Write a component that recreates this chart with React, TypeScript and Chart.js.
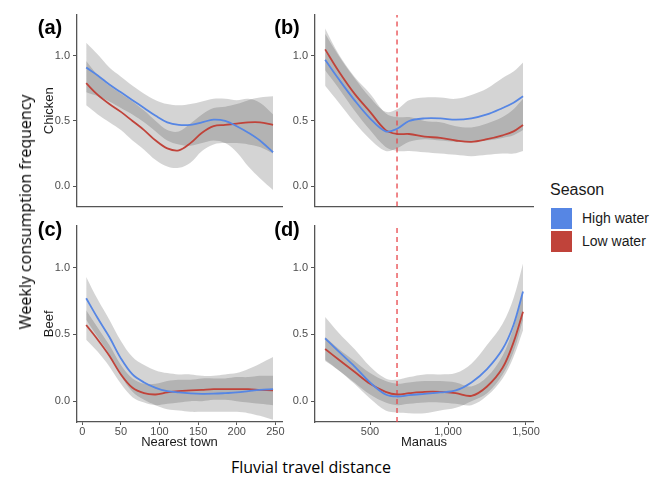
import React, { useEffect, useRef } from 'react';
import { Chart, registerables } from 'chart.js';

Chart.register(...registerables);

// ---------- data ----------
const X_TOWN = [5, 20, 35, 50, 65, 80, 95, 110, 125, 140, 155, 170, 185, 200, 215, 230, 247];
const X_MANAUS = [212, 300, 400, 500, 600, 673, 750, 850, 950, 1050, 1150, 1250, 1350, 1420, 1481];

// (a) Chicken – nearest town
const A_HIGH = [0.91, 0.85, 0.78, 0.72, 0.66, 0.60, 0.54, 0.49, 0.47, 0.47, 0.49, 0.51, 0.50, 0.46, 0.41, 0.35, 0.26];
const A_HIGH_LO = [0.72, 0.69, 0.65, 0.60, 0.55, 0.49, 0.42, 0.35, 0.32, 0.31, 0.33, 0.35, 0.33, 0.26, 0.15, 0.06, -0.03];
const A_HIGH_UP = [1.10, 1.01, 0.91, 0.84, 0.77, 0.71, 0.66, 0.63, 0.62, 0.63, 0.65, 0.67, 0.67, 0.66, 0.67, 0.64, 0.55];
const A_LOW = [0.79, 0.70, 0.63, 0.57, 0.50, 0.43, 0.35, 0.29, 0.275, 0.33, 0.41, 0.46, 0.47, 0.48, 0.49, 0.49, 0.47];
const A_LOW_LO = [0.62, 0.55, 0.49, 0.43, 0.35, 0.28, 0.20, 0.15, 0.14, 0.18, 0.27, 0.32, 0.33, 0.33, 0.32, 0.30, 0.25];
const A_LOW_UP = [0.96, 0.85, 0.77, 0.71, 0.65, 0.58, 0.50, 0.43, 0.42, 0.48, 0.55, 0.60, 0.61, 0.63, 0.66, 0.68, 0.69];

// (b) Chicken – Manaus
const B_HIGH = [0.97, 0.82, 0.66, 0.52, 0.42, 0.44, 0.50, 0.52, 0.52, 0.51, 0.52, 0.55, 0.60, 0.64, 0.69];
const B_HIGH_LO = [0.77, 0.64, 0.49, 0.36, 0.27, 0.29, 0.34, 0.36, 0.35, 0.34, 0.34, 0.35, 0.37, 0.39, 0.43];
const B_HIGH_UP = [1.17, 1.00, 0.83, 0.68, 0.57, 0.59, 0.66, 0.68, 0.68, 0.67, 0.70, 0.75, 0.83, 0.88, 0.95];
const B_LOW = [1.05, 0.88, 0.71, 0.57, 0.43, 0.40, 0.40, 0.38, 0.37, 0.35, 0.34, 0.36, 0.39, 0.42, 0.47];
const B_LOW_LO = [0.89, 0.75, 0.58, 0.43, 0.30, 0.27, 0.27, 0.26, 0.25, 0.24, 0.23, 0.24, 0.25, 0.25, 0.27];
const B_LOW_UP = [1.21, 1.01, 0.84, 0.71, 0.56, 0.53, 0.53, 0.50, 0.49, 0.46, 0.45, 0.48, 0.53, 0.59, 0.67];

// (c) Beef – nearest town
const C_HIGH = [0.77, 0.62, 0.48, 0.32, 0.20, 0.14, 0.10, 0.075, 0.065, 0.058, 0.055, 0.056, 0.06, 0.065, 0.075, 0.085, 0.09];
const C_HIGH_LO = [0.61, 0.48, 0.35, 0.19, 0.07, 0.01, -0.03, -0.06, -0.07, -0.08, -0.08, -0.08, -0.08, -0.08, -0.09, -0.11, -0.14];
const C_HIGH_UP = [0.93, 0.76, 0.61, 0.45, 0.33, 0.27, 0.23, 0.21, 0.20, 0.20, 0.19, 0.19, 0.20, 0.21, 0.24, 0.28, 0.33];
const C_LOW = [0.57, 0.46, 0.34, 0.20, 0.10, 0.06, 0.05, 0.065, 0.075, 0.08, 0.085, 0.09, 0.09, 0.09, 0.09, 0.085, 0.08];
const C_LOW_LO = [0.46, 0.37, 0.26, 0.13, 0.03, -0.01, -0.03, -0.02, -0.01, 0.0, 0.0, 0.01, 0.01, 0.0, -0.01, -0.02, -0.03];
const C_LOW_UP = [0.68, 0.55, 0.42, 0.27, 0.17, 0.13, 0.13, 0.15, 0.16, 0.16, 0.17, 0.17, 0.17, 0.18, 0.18, 0.19, 0.19];

// (d) Beef – Manaus
const D_HIGH = [0.47, 0.37, 0.26, 0.14, 0.05, 0.035, 0.045, 0.055, 0.065, 0.08, 0.14, 0.24, 0.39, 0.57, 0.82];
const D_HIGH_LO = [0.31, 0.23, 0.13, 0.02, -0.07, -0.085, -0.09, -0.09, -0.07, -0.05, 0.0, 0.06, 0.20, 0.37, 0.61];
const D_HIGH_UP = [0.63, 0.51, 0.39, 0.26, 0.17, 0.16, 0.18, 0.20, 0.20, 0.21, 0.28, 0.42, 0.58, 0.77, 1.03];
const D_LOW = [0.39, 0.31, 0.22, 0.13, 0.07, 0.05, 0.06, 0.07, 0.07, 0.06, 0.04, 0.11, 0.25, 0.44, 0.67];
const D_LOW_LO = [0.30, 0.23, 0.14, 0.05, -0.01, -0.03, -0.02, -0.01, -0.01, -0.02, -0.03, 0.04, 0.17, 0.33, 0.53];
const D_LOW_UP = [0.48, 0.39, 0.30, 0.21, 0.15, 0.13, 0.14, 0.15, 0.15, 0.14, 0.11, 0.18, 0.34, 0.55, 0.81];

const Y_TICKS = [0, 0.5, 1.0];
const Y_RANGE = [-0.156, 1.314];
const TOWN_TICKS = [0, 50, 100, 150, 200, 250];
const TOWN_RANGE = [-6.9, 258.6];
const MANAUS_TICKS = [500, 1000, 1500];
const MANAUS_RANGE = [147, 1545];
const MANAUS_REF = [673];

const SERIES_LABELS = ['High water', 'Low water'];

// ---------- styles ----------
const BLUE = '#5686e4';
const RED = '#c0433a';
const BAND = 'rgba(60,60,60,0.22)';
const AXIS = '#555555';
const REF = '#e8454a';
const SANS = '"Liberation Sans", Arial, sans-serif';
const TITLE_FONT = '"Open Sans", "Noto Sans", sans-serif';
const TENSION = 0.35;

const pts = (xs: number[], ys: number[]) => xs.map((x, i) => ({ x, y: ys[i] }));

type PanelProps = {
  left: number; top: number; width: number; height: number;
  xs: number[];
  high: number[]; highLo: number[]; highUp: number[];
  low: number[]; lowLo: number[]; lowUp: number[];
  xRange: number[]; xTicks: number[];
  xTitle?: string; showXLabels: boolean; strip?: string;
  yAxisWidth: number; padTop: number; padRight: number; xAxisHeight: number;
  refLine?: number[];
};

function Panel(p: PanelProps) {
  const ref = useRef<HTMLCanvasElement | null>(null);
  useEffect(() => {
    if (!ref.current) return;
    const line = (data: any, color: string) => ({
      data, borderColor: color, borderWidth: 1.8, pointRadius: 0, fill: false,
      tension: TENSION, order: 0,
    });
    const bandUp = (data: any) => ({
      data, borderWidth: 0, borderColor: 'rgba(0,0,0,0)', backgroundColor: BAND, pointRadius: 0,
      fill: '+1', tension: TENSION, order: 1,
    });
    const bandLo = (data: any) => ({
      data, borderWidth: 0, borderColor: 'rgba(0,0,0,0)', pointRadius: 0, fill: false,
      tension: TENSION, order: 1,
    });
    const datasets: any[] = [
      line(pts(p.xs, p.high), BLUE),
      line(pts(p.xs, p.low), RED),
      bandUp(pts(p.xs, p.highUp)),
      bandLo(pts(p.xs, p.highLo)),
      bandUp(pts(p.xs, p.lowUp)),
      bandLo(pts(p.xs, p.lowLo)),
    ];
    if (p.refLine) {
      p.refLine.forEach((r) => {
        datasets.push({
          data: [{ x: r, y: Y_RANGE[0] }, { x: r, y: Y_RANGE[1] }],
          borderColor: REF, borderWidth: 1.3, borderDash: [5, 4], pointRadius: 0, fill: false, order: 0,
        });
      });
    }
    const fmtX = (v: any) => Number(v).toLocaleString('en-US');
    const chart = new Chart(ref.current, {
      type: 'line',
      data: { datasets },
      options: {
        animation: false,
        responsive: false,
        maintainAspectRatio: false,
        devicePixelRatio: 1,
        layout: { padding: { top: p.padTop, right: p.padRight, left: 0, bottom: 0 } },
        plugins: { legend: { display: false }, tooltip: { enabled: false } },
        scales: {
          x: {
            type: 'linear',
            min: p.xRange[0], max: p.xRange[1],
            afterBuildTicks: (s: any) => { s.ticks = p.xTicks.map((v) => ({ value: v })); },
            afterFit: (s: any) => { s.height = p.xAxisHeight; },
            ticks: {
              display: p.showXLabels, padding: 0, color: '#4d4d4d', autoSkip: false, maxRotation: 0,
              font: { family: SANS, size: 11 }, callback: fmtX,
            },
            grid: { display: true, drawOnChartArea: false, drawTicks: p.showXLabels, tickLength: 3, color: AXIS, lineWidth: 1 },
            border: { display: true, color: AXIS, width: 1.3 },
            title: {
              display: !!p.xTitle, text: p.xTitle || '', color: '#1a1a1a',
              font: { family: SANS, size: 13 }, padding: { top: 0, bottom: 2 },
            },
          },
          y: {
            type: 'linear',
            min: Y_RANGE[0], max: Y_RANGE[1],
            afterBuildTicks: (s: any) => { s.ticks = Y_TICKS.map((v) => ({ value: v })); },
            afterFit: (s: any) => { s.width = p.yAxisWidth; },
            ticks: {
              padding: 3, color: '#4d4d4d', font: { family: SANS, size: 11 },
              callback: (v: any) => Number(v).toFixed(1),
            },
            grid: { display: true, drawOnChartArea: false, drawTicks: true, tickLength: 4, color: AXIS, lineWidth: 1 },
            border: { display: true, color: AXIS, width: 1.3 },
            title: {
              display: !!p.strip, text: p.strip || '', color: '#1a1a1a',
              font: { family: SANS, size: 13 }, padding: { top: 42, bottom: 0 },
            },
          },
        },
      } as any,
    });
    return () => chart.destroy();
  }, []);
  return (
    <canvas
      ref={ref}
      width={p.width}
      height={p.height}
      style={{ position: 'absolute', left: p.left, top: p.top, width: p.width, height: p.height }}
    />
  );
}

function Text(props: { x: number; y: number; text: string; style?: any; rotate?: boolean }) {
  return (
    <div
      style={{
        position: 'absolute', left: props.x, top: props.y, whiteSpace: 'nowrap', lineHeight: 1,
        transform: `translate(-50%, -50%)${props.rotate ? ' rotate(-90deg)' : ''}`,
        ...props.style,
      }}
    >
      {props.text}
    </div>
  );
}

export default function App() {
  const letter = { fontFamily: SANS, fontWeight: 'bold', fontSize: 20, color: '#000' };
  return (
    <div style={{ position: 'absolute', left: 0, top: 0, width: 665, height: 479, background: '#fff', overflow: 'hidden' }}>
      <Panel left={0} top={0} width={290} height={216} xs={X_TOWN}
        high={A_HIGH} highLo={A_HIGH_LO} highUp={A_HIGH_UP} low={A_LOW} lowLo={A_LOW_LO} lowUp={A_LOW_UP}
        xRange={TOWN_RANGE} xTicks={TOWN_TICKS} showXLabels={false} strip="Chicken"
        yAxisWidth={77} padTop={15} padRight={8} xAxisHeight={2} />
      <Panel left={285} top={0} width={255} height={216} xs={X_MANAUS}
        high={B_HIGH} highLo={B_HIGH_LO} highUp={B_HIGH_UP} low={B_LOW} lowLo={B_LOW_LO} lowUp={B_LOW_UP}
        xRange={MANAUS_RANGE} xTicks={MANAUS_TICKS} showXLabels={false}
        yAxisWidth={30} padTop={15} padRight={7} xAxisHeight={2} refLine={MANAUS_REF} />
      <Panel left={0} top={216} width={290} height={236} xs={X_TOWN}
        high={C_HIGH} highLo={C_HIGH_LO} highUp={C_HIGH_UP} low={C_LOW} lowLo={C_LOW_LO} lowUp={C_LOW_UP}
        xRange={TOWN_RANGE} xTicks={TOWN_TICKS} showXLabels={true} strip="Beef" xTitle="Nearest town"
        yAxisWidth={77} padTop={6} padRight={8} xAxisHeight={30} />
      <Panel left={285} top={216} width={255} height={236} xs={X_MANAUS}
        high={D_HIGH} highLo={D_HIGH_LO} highUp={D_HIGH_UP} low={D_LOW} lowLo={D_LOW_LO} lowUp={D_LOW_UP}
        xRange={MANAUS_RANGE} xTicks={MANAUS_TICKS} showXLabels={true} xTitle="Manaus"
        yAxisWidth={30} padTop={6} padRight={7} xAxisHeight={30} refLine={MANAUS_REF} />

      <Text x={50} y={26.5} text="(a)" style={letter} />
      <Text x={287} y={26.5} text="(b)" style={letter} />
      <Text x={50} y={228.5} text="(c)" style={letter} />
      <Text x={287} y={228.5} text="(d)" style={letter} />

      <Text x={25} y={212} rotate text="Weekly consumption frequency"
        style={{ fontFamily: TITLE_FONT, fontSize: 16, color: '#000' }} />
      <Text x={311} y={467} text="Fluvial travel distance"
        style={{ fontFamily: TITLE_FONT, fontSize: 16, color: '#000' }} />

      <div style={{ position: 'absolute', left: 550, top: 182, fontFamily: SANS, fontSize: 16, lineHeight: '16px', color: '#1a1a1a' }}>Season</div>
      <div style={{ position: 'absolute', left: 551, top: 208, width: 21, height: 21, background: BLUE }} />
      <div style={{ position: 'absolute', left: 551, top: 231, width: 21, height: 21, background: RED }} />
      <div style={{ position: 'absolute', left: 582, top: 211, fontFamily: SANS, fontSize: 14, lineHeight: '14px', color: '#1a1a1a' }}>{SERIES_LABELS[0]}</div>
      <div style={{ position: 'absolute', left: 582, top: 234, fontFamily: SANS, fontSize: 14, lineHeight: '14px', color: '#1a1a1a' }}>{SERIES_LABELS[1]}</div>
    </div>
  );
}
